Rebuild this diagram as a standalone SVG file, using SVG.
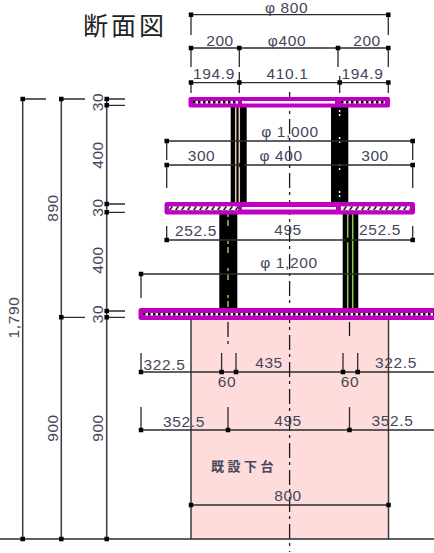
<svg xmlns="http://www.w3.org/2000/svg" width="434" height="553" viewBox="0 0 434 553">
<defs>
<pattern id="hatch" patternUnits="userSpaceOnUse" width="6" height="4" x="169" y="206.300"><rect width="6" height="4" fill="#fff"/><path d="M0.500 4L3.500 0" stroke="#000" stroke-width="1.400"/></pattern>
</defs>
<style>
text{font-family:"Liberation Sans","Noto Sans CJK JP",sans-serif;font-size:15.500px;letter-spacing:0.600px;fill:#46465a;text-anchor:middle}
.j{font-family:"Noto Sans CJK JP","Noto Sans CJK SC",sans-serif}
.d{stroke:#2c2c2c;stroke-width:1.300;fill:none}
.v{stroke:#3a3a3a;stroke-width:1.500;fill:none}
.c{stroke:#1a1a1a;stroke-width:1.300;fill:none;stroke-dasharray:15 4 3 5}
.sq{stroke:#000;stroke-width:4.500;stroke-linecap:square;fill:none}
.col{fill:#000}
.p{fill:#c000c0}
.wl{stroke:#fff;stroke-width:2.500;fill:none}
.dots{stroke:#000;stroke-width:2.500;fill:none;stroke-dasharray:2.500 2.500}
.g{stroke:#8ecb4a;stroke-width:1.500;fill:none}
.gd{stroke:#8ecb4a;stroke-width:1.500;fill:none;stroke-dasharray:3 3 6 15}
.b{stroke:#e5c5c0;stroke-width:1.500;fill:none}
.wd{stroke:#fff;stroke-width:1.500;fill:none;stroke-dasharray:2 2 2 21}
</style>
<g id="base"><rect x="191" y="319" width="198" height="220" fill="#ffdcdc"/></g>
<g id="centerline"><path class="c" d="M289.600 92V552"/></g>
<g id="columns">
<g id="column-1"><rect class="col" x="230.700" y="107" width="16" height="95"/><path class="b" d="M235.700 107V202M239.300 107V202"/></g>
<g id="column-2"><rect class="col" x="331" y="107" width="17.300" height="95"/><path class="wd" d="M339.600 110V202"/></g>
<g id="column-3"><rect class="col" x="219.300" y="214" width="18" height="94"/><path class="gd" d="M228 214V308"/></g>
<g id="column-4"><rect class="col" x="342.700" y="214" width="15.600" height="94"/><path class="g" d="M347.700 214V308M352.700 214V308"/></g>
</g>
<g id="plates">
<g id="plate-1"><rect class="p" x="188.500" y="97" width="201.500" height="10.500" rx="2"/><path class="wl" d="M193 102.300H238M242 102.300H335M341 102.300H385"/><path class="dots" d="M193 102.300H238M341 102.300H385"/></g>
<g id="plate-2"><rect class="p" x="164.500" y="202" width="250.500" height="12.500" rx="2.500"/><rect x="169" y="206.300" width="69" height="4" fill="url(#hatch)"/><rect x="341" y="206.300" width="69" height="4" fill="url(#hatch)"/><path class="wl" d="M242 208.300H336"/></g>
<g id="plate-3"><path class="p" d="M434 308H141a2.500 2.500 0 0 0-2.500 2.500V317.500a2.500 2.500 0 0 0 2.500 2.500H434z"/><path class="wl" d="M143 314.300H434"/><path class="dots" d="M143 314.300H434"/></g>
</g>
<g id="connectors">
<path class="v" d="M191 319V539M388.500 319V539M22.700 99V539M61.300 99V539M106.700 99V539"/>
<path class="d" d="M22.700 99H46M61.300 99H85M106.700 99H125M106.700 105.300H125M106.700 204H125M106.700 212.300H125M106.700 311H125M106.700 317.300H125M61.300 317.300H85M0 539H434"/>
<path class="d" d="M191 14.700H388.300M191 48H388.300M191 82.600H388.300M166.700 141H412.700M166.700 165H412.700M166.700 240H412.700M141 274H434M141 372H434M141 430H434M191 505H388.500"/>
<path class="d" d="M191 14.700V35M388.300 14.700V35M191 48V67M239.300 48V67M338 48V67M388.300 48V67M191 82.600V93M239.300 72V93M339.700 76V93M388.300 82.600V93M166.700 141V160M166.700 165V188M412.700 141V160M412.700 165V188M166.700 226V240M412.700 226V240M141 274V298M141 353V372M221.600 353V372M236 353V372M343 353V372M357.700 353V372M141 407V430M228 407V430M349.500 407V430"/>
<path class="c" d="M228 322V347M349.500 322V336"/>
<path class="sq" d="M22.700 99h0M61.300 99h0M106.700 99h0M106.700 105.300h0M106.700 204h0M106.700 212.300h0M106.700 311h0M106.700 317.300h0M61.300 317.300h0M22.700 539h0M61.300 539h0M106.700 539h0M191 14.700h0M388.300 14.700h0M191 48h0M239.300 48h0M338 48h0M388.300 48h0M191 82.600h0M239.300 82.600h0M339.700 82.600h0M388.300 82.600h0M166.700 141h0M412.700 141h0M166.700 165h0M241.500 165h0M412.700 165h0M166.700 240h0M348.500 240h0M412.700 240h0M141 274h0M141 372h0M221.600 372h0M236 372h0M343 372h0M357.700 372h0M141 430h0M228 430h0M349.500 430h0M191 505h0M388.500 505h0"/>
</g>
<g id="labels">
<text class="j" x="83" y="35" style="font-size:25px;letter-spacing:3px;text-anchor:start;fill:#222">断面図</text>
<text x="286.500" y="12.500">φ 800</text>
<text x="220" y="46">200</text>
<text x="287" y="46">φ400</text>
<text x="367" y="46">200</text>
<text x="214" y="79">194.9</text>
<text x="287.500" y="79">410.1</text>
<text x="362.500" y="79">194.9</text>
<text x="290" y="137">φ 1,000</text>
<text x="201.500" y="161">300</text>
<text x="281" y="161">φ 400</text>
<text x="375" y="161">300</text>
<text x="196" y="236">252.5</text>
<text x="288" y="235">495</text>
<text x="380" y="235">252.5</text>
<text x="289" y="268">φ 1,200</text>
<text x="164.500" y="370">322.5</text>
<text x="269" y="368">435</text>
<text x="396" y="368">322.5</text>
<text x="227" y="387">60</text>
<text x="350" y="387">60</text>
<text x="184" y="427">352.5</text>
<text x="288" y="426">495</text>
<text x="392.500" y="426">352.5</text>
<text class="j" x="244" y="471" style="font-size:13px;letter-spacing:3.500px;font-weight:700">既設下台</text>
<text x="288" y="501">800</text>
<text transform="translate(103,102) rotate(-90)">30</text>
<text transform="translate(103,155) rotate(-90)">400</text>
<text transform="translate(103,207.500) rotate(-90)">30</text>
<text transform="translate(103,260) rotate(-90)">400</text>
<text transform="translate(103,314) rotate(-90)">30</text>
<text transform="translate(103,428) rotate(-90)">900</text>
<text transform="translate(58,428) rotate(-90)">900</text>
<text transform="translate(58,208) rotate(-90)">890</text>
<text transform="translate(19,317.500) rotate(-90)">1,790</text>
</g>
</svg>
